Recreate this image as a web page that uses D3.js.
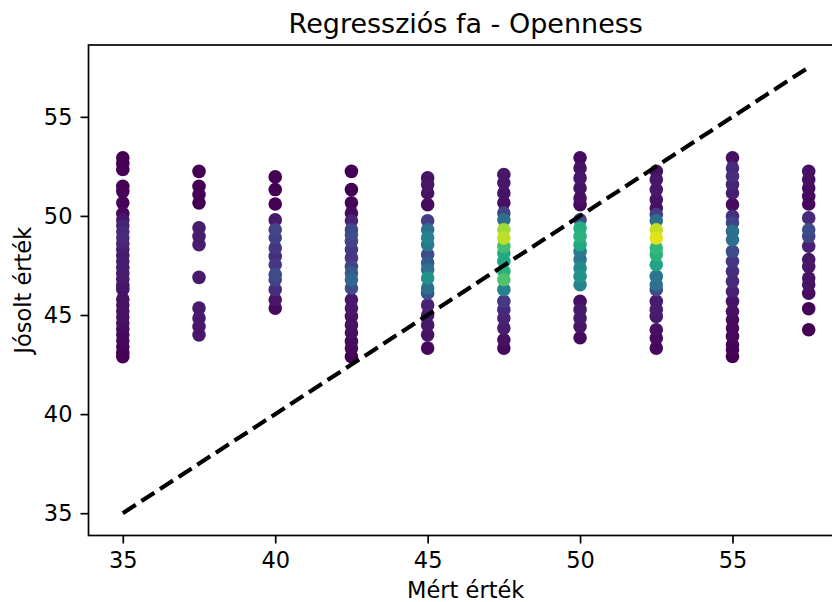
<!DOCTYPE html>
<html>
<head>
<meta charset="utf-8">
<script src="https://d3js.org/d3.v7.min.js"></script>
<title>Regressziós fa - Openness</title>
<style type="text/css">
body {
  margin: 0;
  background: #fff;
}
svg text {
  font-family: "DejaVu Sans", sans-serif;
  fill: #000;
}
.axis path, .axis line {
  stroke: #000;
  stroke-width: 1.7px;
}
</style>
</head>
<body>
<svg id="chart"></svg>

<script>
// measured values (Mért érték) - one column per category
var measured = [35, 37.5, 40, 42.5, 45, 47.5, 50, 52.5, 55, 57.5];

// predicted values for each column: [predicted, density 0..1]
var col35 = [[52.93,0],[52.65,0],[52.34,0],[51.5,0],[51.24,0.01],[50.66,0.01],[50.12,0.02],[49.8,0.06],[49.5,0.1],[49.2,0.12],[48.9,0.12],[48.6,0.1],[48.3,0.08],[48.0,0.07],[47.7,0.08],[47.4,0.08],[47.1,0.08],[46.8,0.07],[46.5,0.06],[46.3,0.05],[45.8,0.05],[45.5,0.05],[45.2,0.04],[44.9,0.05],[44.6,0.04],[44.3,0.03],[44.0,0.02],[43.7,0.02],[43.4,0.01],[43.1,0],[42.9,0]];
var col375 = [[52.25,0],[51.5,0],[51.08,0],[50.66,0],[49.4,0.08],[48.97,0.08],[48.55,0.08],[46.9,0.07],[45.35,0.07],[44.85,0.07],[44.42,0.06],[44.0,0.06]];
var col40 = [[51.97,0],[51.33,0],[50.6,0],[49.8,0.07],[49.3,0.2],[48.9,0.19],[48.38,0.16],[47.96,0.13],[47.54,0.16],[47.04,0.23],[46.78,0.2],[46.28,0.13],[45.77,0.06],[45.35,0.03]];
var col425 = [[52.25,0],[51.33,0],[50.66,0.01],[50.15,0.03],[49.76,0.1],[49.3,0.2],[49.05,0.23],[48.72,0.2],[48.3,0.16],[47.88,0.16],[47.45,0.2],[47.12,0.28],[46.78,0.33],[46.36,0.23],[45.77,0.06],[45.35,0.06],[44.93,0.05],[44.5,0.05],[44.1,0.04],[43.67,0.03],[43.33,0.02],[42.9,0]];
var col45 = [[51.92,0.05],[51.58,0.06],[51.16,0.05],[50.57,0.03],[49.76,0.18],[49.3,0.36],[48.9,0.44],[48.55,0.4],[48.05,0.23],[47.63,0.28],[47.29,0.36],[46.87,0.5],[46.36,0.36],[46.1,0.25],[45.5,0.09],[45.0,0.07],[44.5,0.06],[44.0,0.05],[43.33,0.02]];
var col475 = [[52.09,0.06],[51.67,0.06],[51.16,0.05],[50.66,0.04],[50.15,0.2],[49.81,0.36],[49.3,0.86],[48.89,0.9],[48.47,0.7],[48.13,0.6],[47.71,0.59],[47.2,0.64],[46.78,0.72],[46.28,0.44],[45.69,0.16],[45.27,0.12],[44.85,0.1],[44.34,0.08],[43.75,0.04],[43.33,0.02]];
var col50 = [[52.93,0.03],[52.42,0.05],[51.92,0.06],[51.41,0.05],[50.9,0.04],[50.57,0.02],[49.81,0.23],[49.39,0.62],[48.97,0.64],[48.55,0.6],[48.21,0.41],[47.8,0.4],[47.37,0.47],[46.95,0.5],[46.53,0.45],[45.69,0.04],[45.27,0.07],[44.85,0.07],[44.42,0.06],[43.85,0.03]];
var col525 = [[52.25,0.05],[51.83,0.06],[51.33,0.06],[50.82,0.05],[50.4,0.04],[50.07,0.18],[49.76,0.36],[49.3,0.9],[48.89,0.95],[48.38,0.66],[48.05,0.64],[47.54,0.58],[46.95,0.39],[46.53,0.36],[46.28,0.23],[45.69,0.08],[45.27,0.08],[44.93,0.07],[44.26,0.04],[43.84,0.03],[43.33,0.02]];
var col55 = [[52.93,0.04],[52.42,0.12],[52.0,0.13],[51.58,0.1],[51.16,0.08],[50.57,0.03],[49.98,0.14],[49.65,0.2],[49.22,0.36],[48.8,0.36],[48.21,0.23],[47.71,0.16],[47.2,0.13],[46.7,0.12],[46.19,0.09],[45.69,0.05],[45.18,0.04],[44.76,0.03],[44.34,0.03],[43.92,0.02],[43.5,0.01],[43.25,0.01],[42.91,0]];
var col575 = [[52.25,0.04],[51.83,0.04],[51.41,0.03],[50.99,0.03],[50.6,0.02],[49.9,0.12],[49.3,0.23],[48.97,0.2],[48.47,0.09],[47.8,0.06],[47.45,0.06],[46.87,0.05],[46.53,0.05],[46.1,0.03],[45.32,0.01],[44.26,0]];
var predicted = [col35, col375, col40, col425, col45, col475, col50, col525, col55, col575];

// ideal line y = x
var idealLine = [35, 57.5];
var ticks = [35, 40, 45, 50, 55];

var width = 832, height = 602;
var margin = {left: 88.5, top: 45, right: 843, bottom: 535.5};

var svg = d3.select("#chart")
  .attr("width", width)
  .attr("height", height);

var x = d3.scaleLinear()
  .domain([33.875, 58.625])
  .range([margin.left, margin.right]);

var y = d3.scaleLinear()
  .domain([33.875, 58.625])
  .range([margin.bottom, margin.top]);

var color = d3.scaleSequential(d3.interpolateViridis).domain([0, 1]);

// flatten and sort by density so dense points are on top
var points = [];
predicted.forEach(function(col, i) {
  col.forEach(function(p) {
    points.push({x: measured[i], y: p[0], d: p[1]});
  });
});
points.sort(function(a, b) { return a.d - b.d; });

svg.append("g")
  .selectAll("circle")
  .data(points)
  .enter().append("circle")
    .attr("cx", function(d) { return x(d.x); })
    .attr("cy", function(d) { return y(d.y); })
    .attr("r", 6.8)
    .style("fill", function(d) { return color(d.d); });

// dashed y = x line
var line = d3.line()
  .x(function(d) { return x(d); })
  .y(function(d) { return y(d); });

svg.append("path")
  .datum(idealLine)
  .attr("d", line)
  .attr("fill", "none")
  .attr("stroke", "#000")
  .attr("stroke-width", 4.2)
  .attr("stroke-dasharray", "15.5,6.7");

// frame
svg.append("rect")
  .attr("x", margin.left)
  .attr("y", margin.top)
  .attr("width", margin.right - margin.left)
  .attr("height", margin.bottom - margin.top)
  .attr("fill", "none")
  .attr("stroke", "#000")
  .attr("stroke-width", 1.7);

var xAxis = svg.append("g")
  .attr("class", "axis")
  .attr("transform", "translate(0," + margin.bottom + ")")
  .call(d3.axisBottom(x).tickValues(ticks).tickSize(8).tickPadding(9));
xAxis.select(".domain").remove();
xAxis.selectAll("text").style("font-size", "22.5px");

var yAxis = svg.append("g")
  .attr("class", "axis")
  .attr("transform", "translate(" + margin.left + ",0)")
  .call(d3.axisLeft(y).tickValues(ticks).tickSize(8).tickPadding(8));
yAxis.select(".domain").remove();
yAxis.selectAll("text").style("font-size", "22.5px");

svg.append("text")
  .attr("x", (margin.left + margin.right) / 2)
  .attr("y", 33)
  .attr("text-anchor", "middle")
  .style("font-size", "27px")
  .text("Regressziós fa - Openness");

svg.append("text")
  .attr("x", (margin.left + margin.right) / 2)
  .attr("y", 598)
  .attr("text-anchor", "middle")
  .style("font-size", "22.5px")
  .text("Mért érték");

svg.append("text")
  .attr("transform", "translate(31," + (margin.top + margin.bottom) / 2 + ")rotate(-90)")
  .attr("text-anchor", "middle")
  .style("font-size", "22.5px")
  .text("Jósolt érték");
</script>
</body>
</html>
